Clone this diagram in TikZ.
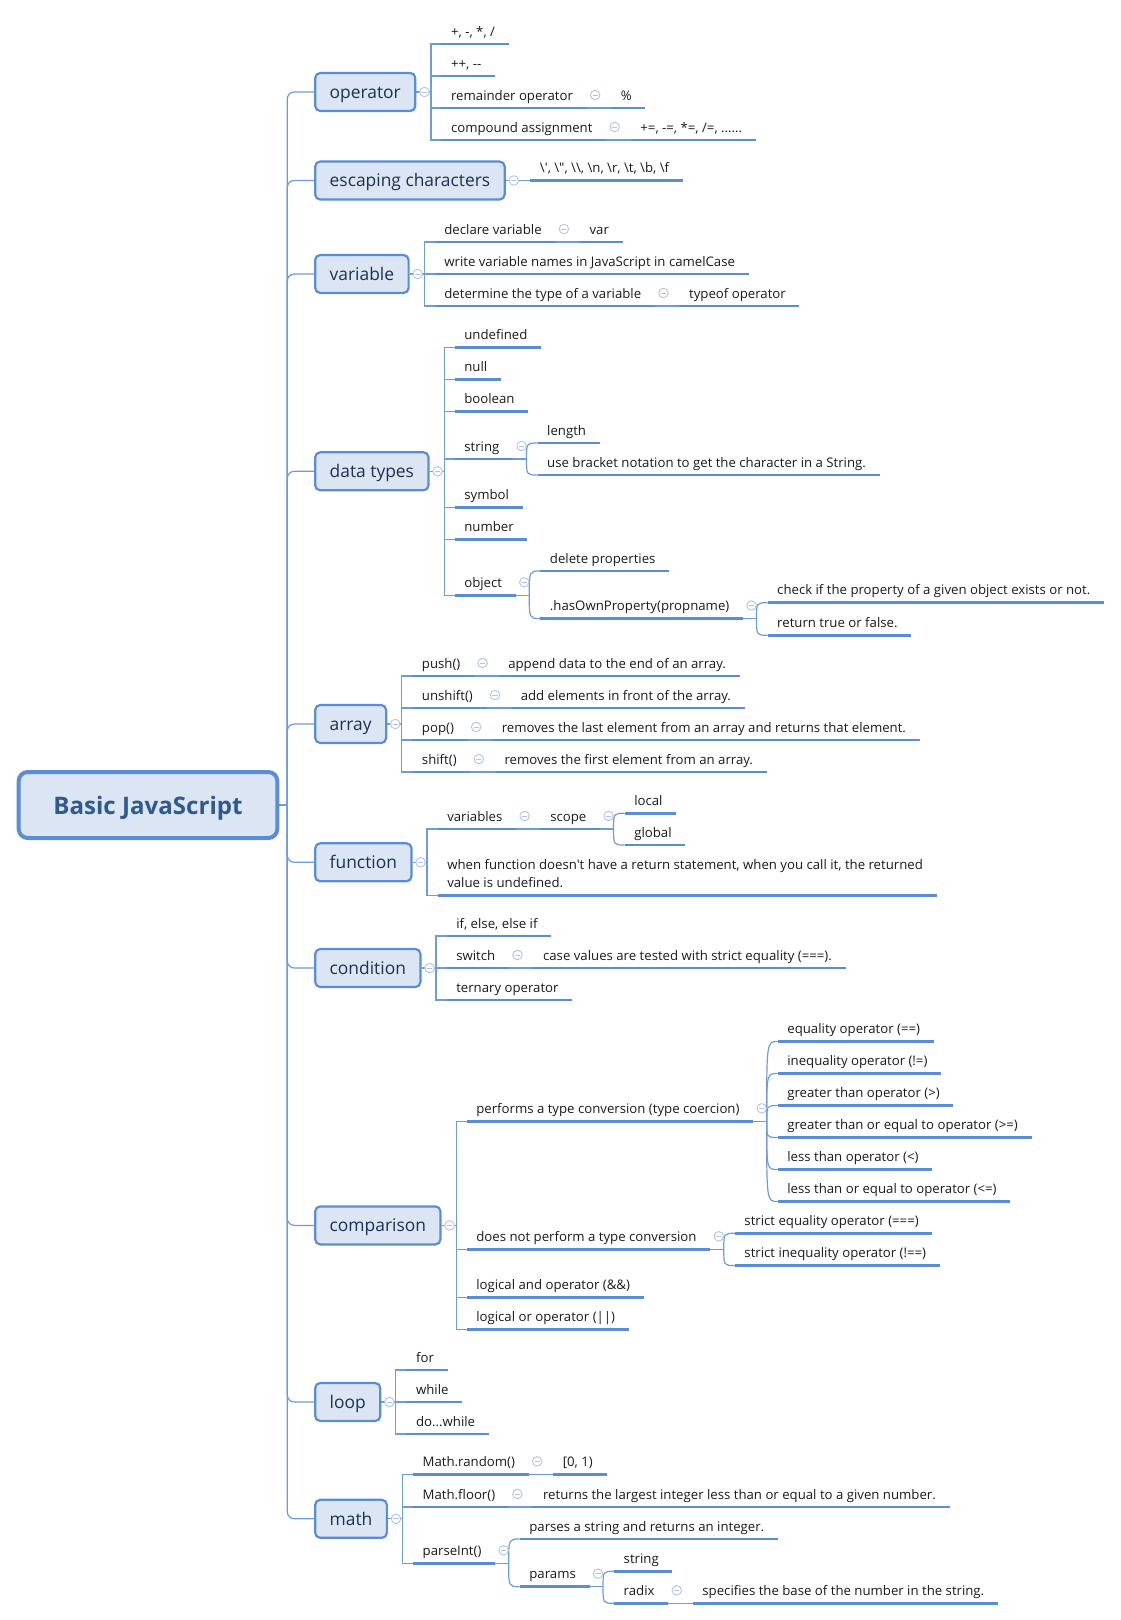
\documentclass[tikz,border=0pt]{standalone}
\usepackage{fontspec}
\setmainfont{Open Sans}[Ligatures=TeXOff]
\usetikzlibrary{calc}
\pgfdeclarelayer{bg}
\pgfsetlayers{bg,main}
\definecolor{boxfill}{HTML}{DBE5F3}
\definecolor{boxbord}{HTML}{5A8DD5}
\definecolor{maintext}{HTML}{1E3150}
\definecolor{roottext}{HTML}{2F5A8E}
\definecolor{leaftext}{HTML}{1A1A1A}
\definecolor{ulcol}{HTML}{5A8DD5}
\definecolor{conncol}{HTML}{6F9BDA}
\definecolor{togcol}{HTML}{AFC4E8}
\newcommand\JSfnt{\fontsize{13.2}{18.7}\selectfont}
\newcommand\JMfnt{\fontsize{17.4}{21}\selectfont}
\newcommand\JRfnt{\fontsize{24.1}{29}\selectfont\bfseries}
\tikzset{
  mainbox/.style={draw=boxbord, line width=2.2pt, fill=boxfill, rounded corners=5pt,
    inner xsep=14.5pt, inner ysep=0pt, minimum height=38pt, text height=14pt, text depth=1.4pt,
    font=\JMfnt, text=maintext, anchor=west},
  rootbox/.style={draw=boxbord, line width=4pt, fill=boxfill, rounded corners=9pt,
    minimum width=258.6pt, minimum height=66pt, text height=18pt, text depth=0pt,
    inner sep=0pt, font=\JRfnt, text=roottext},
  leaf/.style={anchor=base west, inner sep=0pt, font=\JSfnt, text=leaftext},
  ul/.style={draw=ulcol, line width=2.7pt},
  conn/.style={draw=conncol, line width=1.2pt},
  trunk/.style={conn, rounded corners=7pt},
  tog/.style={circle, draw=togcol, line width=0.9pt, fill=white, minimum size=9.5pt, inner sep=0pt,
    path picture={\draw[togcol, line width=0.9pt]
      ([xshift=-2.6pt]path picture bounding box.center) -- ([xshift=2.6pt]path picture bounding box.center);}},
}
% connector on background layer
\newcommand\JCn[1]{\begin{pgfonlayer}{bg}\draw[conn] #1;\end{pgfonlayer}}
% leaf: name, underline start point, text
\newcommand\JLeaf[3]{%
  \coordinate (#1-l) at (#2);
  \node[leaf] (#1) at ([xshift=9.5pt,yshift=8pt]#1-l) {#3};
  \coordinate (#1-r) at ($(#1-l -| #1.base east)+(13.5,0)$);
  \draw[ul] (#1-l) -- (#1-r);}
% main topic box
\newcommand\JBox[3]{\node[mainbox] (#1) at (314.1,#2) {#3};}
% main spine
\newcommand\JSpine[1]{%
  \coordinate (#1-s) at ([xshift=14.5pt]#1.east);
  \coordinate (#1-c) at ([xshift=25pt]#1.east);
  \JCn{(#1.east) -- (#1-s)}}
% main child: parent, name, underline y, text
\newcommand\JMc[4]{\JLeaf{#2}{#1-c |- 0,#3}{#4}\JCn{(#1-s) |- (#2-l)}}
% single child of a subtopic: parent, name, text
\newcommand\JSingle[3]{%
  \JLeaf{#2}{$(#1-r)+(24.5,0)$}{#3}\JCn{(#1-r) -- (#2-l)}%
  \node[tog] (#1-t) at ($(#1-r)+(8.5,-13)$) {};}
% junction of a subtopic with several children
\newcommand\JJunc[1]{%
  \coordinate (#1-j) at ($(#1-r)+(13.5,0)$);
  \JCn{(#1-r) -- (#1-j)}%
  \node[tog] (#1-t) at ($(#1-r)+(8.5,-13)$) {};}
% child on a curved junction: parent, name, underline y, text
\newcommand\JJc[4]{\JLeaf{#2}{$(#1-j |- 0,#3)+(11,0)$}{#4}\JCn{(#1-j) .. controls (#1-j |- #2-l) .. (#2-l)}}
\begin{document}
\begin{tikzpicture}[x=1pt,y=-1pt]
\useasboundingbox (0,0) rectangle (1120,1620);
% root and main topics
\node[rootbox] (root) at (148,805) {Basic JavaScript};
\coordinate (tr) at (287.3,805);
\JBox{op}{92}{operator}
\JBox{esc}{180.5}{escaping characters}
\JBox{var}{274}{variable}
\JBox{dt}{471.3}{data types}
\JBox{arr}{724}{array}
\JBox{fn}{862.3}{function}
\JBox{cond}{968}{condition}
\JBox{cmp}{1225.4}{comparison}
\JBox{loop}{1402}{loop}
\JBox{math}{1518.8}{math}
\JCn{(root.east) -- (tr)}
\begin{pgfonlayer}{bg}
\foreach \bx in {op,esc,var,dt,arr,fn,cond,cmp,loop,math} \draw[trunk] (tr) |- (\bx.west);
\end{pgfonlayer}
% operator
\JSpine{op}
\JMc{op}{o1}{44}{+, -, *, /}
\JMc{op}{o2}{76}{++, --}
\JMc{op}{o3}{108}{remainder operator}
\JSingle{o3}{o3a}{\%}
\JMc{op}{o4}{140}{compound assignment}
\JSingle{o4}{o4a}{+=, -=, *=, /=, ......}
% escaping characters
\JLeaf{e1}{$(esc.east)+(24.5,0)$}{\textbackslash', \textbackslash", \textbackslash\textbackslash, \textbackslash n, \textbackslash r, \textbackslash t, \textbackslash b, \textbackslash f}
\JCn{(esc.east) -- (e1-l)}
% variable
\JSpine{var}
\JMc{var}{v1}{242}{declare variable}
\JSingle{v1}{v1a}{var}
\JMc{var}{v2}{274}{write variable names in JavaScript in camelCase}
\JMc{var}{v3}{306}{determine the type of a variable}
\JSingle{v3}{v3a}{typeof operator}
% data types
\JSpine{dt}
\JMc{dt}{d1}{347.3}{undefined}
\JMc{dt}{d2}{379.3}{null}
\JMc{dt}{d3}{411.3}{boolean}
\JMc{dt}{d4}{459}{string}
\JJunc{d4}
\JJc{d4}{d4a}{443}{length}
\JJc{d4}{d4b}{475}{use bracket notation to get the character in a String.}
\JMc{dt}{d5}{507.3}{symbol}
\JMc{dt}{d6}{539.3}{number}
\JMc{dt}{d7}{595.3}{object}
\JJunc{d7}
\JJc{d7}{d7a}{571}{delete properties}
\JJc{d7}{d7b}{618.5}{.hasOwnProperty(propname)}
\JJunc{d7b}
\JJc{d7b}{d7b1}{602.7}{check if the property of a given object exists or not.}
\JJc{d7b}{d7b2}{635.3}{return true or false.}
% array
\JSpine{arr}
\JMc{arr}{a1}{676}{push()}
\JSingle{a1}{a1a}{append data to the end of an array.}
\JMc{arr}{a2}{708}{unshift()}
\JSingle{a2}{a2a}{add elements in front of the array.}
\JMc{arr}{a3}{740}{pop()}
\JSingle{a3}{a3a}{removes the last element from an array and returns that element.}
\JMc{arr}{a4}{772}{shift()}
\JSingle{a4}{a4a}{removes the first element from an array.}
% function
\JSpine{fn}
\JMc{fn}{f1}{829}{variables}
\JSingle{f1}{f1a}{scope}
\JJunc{f1a}
\JJc{f1a}{f1a1}{813.3}{local}
\JJc{f1a}{f1a2}{845}{global}
\JMc{fn}{f2}{895.7}{\begin{tabular}[b]{@{}l@{}}when function doesn't have a return statement, when you call it, the returned\\value is undefined.\end{tabular}}
% condition
\JSpine{cond}
\JMc{cond}{c1}{936}{if, else, else if}
\JMc{cond}{c2}{968}{switch}
\JSingle{c2}{c2a}{case values are tested with strict equality (===).}
\JMc{cond}{c3}{1000}{ternary operator}
% comparison
\JSpine{cmp}
\JMc{cmp}{k1}{1121.3}{performs a type conversion (type coercion)}
\JJunc{k1}
\JJc{k1}{k11}{1041.5}{equality operator (==)}
\JJc{k1}{k12}{1073.5}{inequality operator (!=)}
\JJc{k1}{k13}{1105.5}{greater than operator (>)}
\JJc{k1}{k14}{1137.5}{greater than or equal to operator (>=)}
\JJc{k1}{k15}{1169.5}{less than operator (<)}
\JJc{k1}{k16}{1201.5}{less than or equal to operator (<=)}
\JMc{cmp}{k2}{1249.3}{does not perform a type conversion}
\JJunc{k2}
\JJc{k2}{k21}{1233.3}{strict equality operator (===)}
\JJc{k2}{k22}{1265.5}{strict inequality operator (!==)}
\JMc{cmp}{k3}{1297.5}{logical and operator (\&\&)}
\JMc{cmp}{k4}{1329.5}{logical or operator (||)}
% loop
\JSpine{loop}
\JMc{loop}{l1}{1370}{for}
\JMc{loop}{l2}{1402}{while}
\JMc{loop}{l3}{1434}{do...while}
% math
\JSpine{math}
\JMc{math}{m1}{1474.3}{Math.random()}
\JSingle{m1}{m1a}{[0, 1)}
\JMc{math}{m2}{1507}{Math.floor()}
\JSingle{m2}{m2a}{returns the largest integer less than or equal to a given number.}
\JMc{math}{m3}{1563.3}{parseInt()}
\JJunc{m3}
\JJc{m3}{m31}{1539}{parses a string and returns an integer.}
\JJc{m3}{m32}{1586.7}{params}
\JJunc{m32}
\JJc{m32}{m321}{1571.3}{string}
\JJc{m32}{m322}{1603.3}{radix}
\JSingle{m322}{m322a}{specifies the base of the number in the string.}
% toggles of the main topics
\foreach \bx in {op,esc,var,dt,arr,fn,cond,cmp,loop,math} \node[tog] (\bx-t) at ([xshift=8pt]\bx.east) {};
\end{tikzpicture}
\end{document}
